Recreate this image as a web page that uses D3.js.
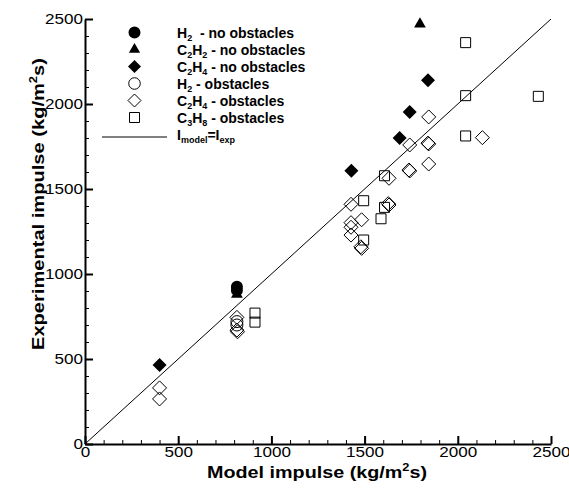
<!DOCTYPE html>
<html>
<head>
<meta charset="utf-8">
<script src="https://cdn.jsdelivr.net/npm/d3@7"></script>
<style>
  html, body { margin: 0; padding: 0; background: #fff; }
  svg { display: block; font-family: Arial, "Liberation Sans", sans-serif; }
</style>
</head>
<body>
<svg id="chart" width="569" height="494"></svg>
<script>
// Impulse pairs [model, experimental] in kg/(m^2 s)
const h2NoObstacles   = [[815, 925], [815, 905]];
const c2h2NoObstacles = [[815, 880], [1797, 2470]];
const c2h4NoObstacles = [[400, 465], [1429, 1608], [1688, 1800], [1742, 1953], [1840, 2139]];
const h2Obstacles     = [[815, 720], [815, 700]];
const c2h4Obstacles   = [
  [400, 330], [400, 265],
  [815, 745], [815, 670], [818, 660],
  [1427, 1410], [1427, 1302], [1427, 1275], [1427, 1229],
  [1484, 1319], [1484, 1151], [1480, 1160],
  [1631, 1563], [1631, 1406], [1627, 1414],
  [1742, 1759], [1742, 1606], [1738, 1612],
  [1844, 1647], [1844, 1765], [1840, 1770], [1844, 1924],
  [2132, 1802]
];
const c3h8Obstacles   = [
  [912, 770], [912, 717],
  [1495, 1431], [1495, 1200], [1588, 1325],
  [1607, 1578], [1607, 1392],
  [2042, 2361], [2042, 2049], [2042, 1812], [2432, 2045]
];
const axisTicks = [0, 500, 1000, 1500, 2000, 2500];
const minorTicks = d3.range(0, 2501, 100);

const svg = d3.select("#chart");
const x = d3.scaleLinear().domain([0, 2500]).range([85, 551]);
const y = d3.scaleLinear().domain([0, 2500]).range([444, 19]);

// minor ticks
svg.append("g").attr("transform", "translate(0,444)")
  .call(d3.axisBottom(x).tickValues(minorTicks).tickSizeInner(-4).tickSizeOuter(0).tickFormat(""))
  .call(g => g.select(".domain").remove())
  .call(g => g.selectAll("line").attr("stroke", "#000").attr("stroke-width", 1));
svg.append("g").attr("transform", "translate(85,0)")
  .call(d3.axisLeft(y).tickValues(minorTicks).tickSizeInner(-4).tickSizeOuter(0).tickFormat(""))
  .call(g => g.select(".domain").remove())
  .call(g => g.selectAll("line").attr("stroke", "#000").attr("stroke-width", 1));

// major ticks with labels
const xAxis = svg.append("g").attr("transform", "translate(0,444)")
  .call(d3.axisBottom(x).tickValues(axisTicks).tickSizeInner(-8).tickSizeOuter(0).tickPadding(3).tickFormat(d3.format("d")));
const yAxis = svg.append("g").attr("transform", "translate(85,0)")
  .call(d3.axisLeft(y).tickValues(axisTicks).tickSizeInner(-8).tickSizeOuter(0).tickPadding(2).tickFormat(d3.format("d")));
[xAxis, yAxis].forEach(g => {
  g.select(".domain").attr("stroke", "#000").attr("stroke-width", 2);
  g.selectAll("line").attr("stroke", "#000").attr("stroke-width", 2);
  g.selectAll("text").attr("fill", "#000").attr("font-size", 14)
    .attr("font-family", "Arial, 'Liberation Sans', sans-serif")
    .attr("textLength", d => String(d).length * 9.5)
    .attr("lengthAdjust", "spacingAndGlyphs");
});

// identity line
svg.append("line")
  .attr("x1", x(0)).attr("y1", y(0)).attr("x2", x(2500)).attr("y2", y(2500))
  .attr("stroke", "#000").attr("stroke-width", 1);

// marker shapes
const sym = {
  circle:   d3.symbol().type(d3.symbolCircle).size(113),
  triangle: d3.symbol().type(d3.symbolTriangle).size(60),
  diamond:  () => "M0,-7L7,0L0,7L-7,0Z",
  square:   () => "M-5,-5H5V5H-5Z"
};

function plot(data, shape, filled) {
  svg.append("g").selectAll("path").data(data).join("path")
    .attr("transform", d => `translate(${x(d[0])},${y(d[1])})`)
    .attr("d", sym[shape]())
    .attr("fill", filled ? "#000" : "none")
    .attr("stroke", "#000")
    .attr("stroke-width", filled ? 0 : 1);
}
plot(c3h8Obstacles, "square", false);
plot(c2h4Obstacles, "diamond", false);
plot(h2Obstacles, "circle", false);
plot(c2h4NoObstacles, "diamond", true);
plot(c2h2NoObstacles, "triangle", true);
plot(h2NoObstacles, "circle", true);

// legend
const legendItems = [
  { shape: "circle", filled: true,  parts: [["H"], ["2", "sub"], ["  - no obstacles"]] },
  { shape: "triangle", filled: true, parts: [["C"], ["2", "sub"], ["H"], ["2", "sub"], [" - no obstacles"]] },
  { shape: "diamond", filled: true, parts: [["C"], ["2", "sub"], ["H"], ["4", "sub"], [" - no obstacles"]] },
  { shape: "circle", filled: false, parts: [["H"], ["2", "sub"], [" - obstacles"]] },
  { shape: "diamond", filled: false, parts: [["C"], ["2", "sub"], ["H"], ["4", "sub"], [" - obstacles"]] },
  { shape: "square", filled: false, parts: [["C"], ["3", "sub"], ["H"], ["8", "sub"], [" - obstacles"]] },
  { shape: "line", parts: [["I"], ["model", "sub"], ["=I"], ["exp", "sub"]] }
];
const lg = svg.append("g");
legendItems.forEach((it, i) => {
  const cy = 32.5 + i * 17;
  if (it.shape === "line") {
    lg.append("line").attr("x1", 102).attr("x2", 167).attr("y1", cy + 2.5).attr("y2", cy + 2.5)
      .attr("stroke", "#000").attr("stroke-width", 1);
  } else {
    const s = it.shape === "square" ? () => "M-5,-5H5V5H-5Z"
            : it.shape === "diamond" ? () => "M0,-6.5L6.5,0L0,6.5L-6.5,0Z"
            : it.shape === "circle" ? d3.symbol().type(d3.symbolCircle).size(it.filled ? 113 : 105)
            : d3.symbol().type(d3.symbolTriangle).size(55);
    lg.append("path").attr("transform", `translate(134.5,${cy})`).attr("d", s())
      .attr("fill", it.filled ? "#000" : "none").attr("stroke", "#000").attr("stroke-width", it.filled ? 0 : 1);
  }
  const t = lg.append("text").attr("x", 177).attr("y", cy + 5)
    .attr("font-size", 14).attr("font-weight", "bold").attr("xml:space", "preserve")
    .style("white-space", "pre");
  let shifted = false;
  it.parts.forEach(p => {
    const ts = t.append("tspan").text(p[0]);
    if (p[1] === "sub") {
      ts.attr("font-size", 9).attr("dy", shifted ? 0 : 3);
      shifted = true;
    } else {
      ts.attr("dy", shifted ? -3 : 0);
      shifted = false;
    }
  });
});

// axis titles
const xt = svg.append("text").attr("x", 317).attr("y", 478).attr("text-anchor", "middle")
  .attr("font-size", 17).attr("font-weight", "bold")
  .attr("textLength", 220).attr("lengthAdjust", "spacingAndGlyphs");
xt.append("tspan").text("Model impulse (kg/m");
xt.append("tspan").text("2").attr("font-size", 11).attr("dy", -7);
xt.append("tspan").text("s)").attr("dy", 7);

const yt = svg.append("text").attr("transform", "translate(44,204) rotate(-90)").attr("text-anchor", "middle")
  .attr("font-size", 17).attr("font-weight", "bold")
  .attr("textLength", 292).attr("lengthAdjust", "spacingAndGlyphs");
yt.append("tspan").text("Experimental impulse (kg/m");
yt.append("tspan").text("2").attr("font-size", 11).attr("dy", -7);
yt.append("tspan").text("s)").attr("dy", 7);
</script>
</body>
</html>
